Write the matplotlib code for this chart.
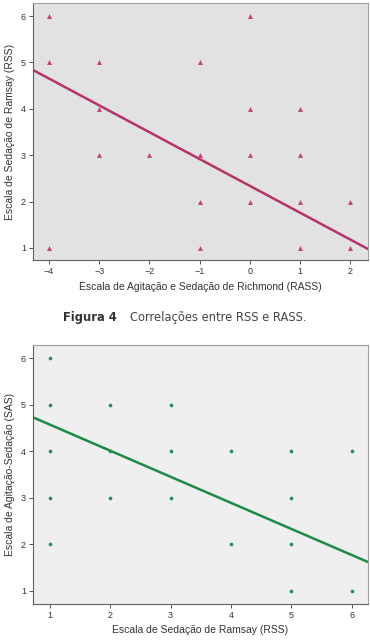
import matplotlib
matplotlib.use('Agg')
import matplotlib.pyplot as plt
import numpy as np

# Figura 4: RASS (x) vs RSS (y)
rass_x = [-4, 0, -4, -3, -1, -3, 0, 1, -3, -2, -1, 0, 1, -1, 0, 1, 2, -4, -1, 1, 2]
rss_y = [6, 6, 5, 5, 5, 4, 4, 4, 3, 3, 3, 3, 3, 2, 2, 2, 2, 1, 1, 1, 1]
fit1 = (-0.578, 2.34)   # slope, intercept

# Figura 5: RSS (x) vs SAS (y)
rss_x = [1, 1, 2, 3, 1, 2, 3, 4, 5, 6, 1, 2, 3, 5, 1, 4, 5, 5, 6]
sas_y = [6, 5, 5, 5, 4, 4, 4, 4, 4, 4, 3, 3, 3, 3, 2, 2, 2, 1, 1]
fit2 = (-0.56, 5.13)

plt.rcParams['font.family'] = ['Liberation Sans', 'DejaVu Sans']

fig = plt.figure(figsize=(3.70, 6.43), dpi=100)

def style(ax, bg):
    ax.set_facecolor(bg)
    for s in ax.spines.values():
        s.set_color('#a0a0a0')
        s.set_linewidth(0.8)
    ax.spines['left'].set_color('#606060')
    ax.spines['bottom'].set_color('#606060')
    ax.tick_params(labelsize=6.5, colors='#333333', length=3, width=0.6, pad=2)

ax1 = fig.add_axes([0.089, 0.5956, 0.906, 0.3997])
style(ax1, '#e2e2e2')
ax1.scatter(rass_x, rss_y, marker='^', s=13, color='#c2457a', zorder=3, linewidths=0)
xl = np.array([-4.32, 2.36])
ax1.plot(xl, fit1[0] * xl + fit1[1], color='#b5336a', lw=1.8, zorder=2)
ax1.set_xlim(-4.32, 2.36)
ax1.set_ylim(0.74, 6.28)
ax1.set_xticks([-4, -3, -2, -1, 0, 1, 2])
ax1.set_xticklabels(['\u22124', '\u22123', '\u22122', '\u22121', '0', '1', '2'])
ax1.set_yticks([1, 2, 3, 4, 5, 6])
ax1.set_xlabel('Escala de Agitação e Sedação de Richmond (RASS)', fontsize=7.5, color='#333333', labelpad=4)
ax1.set_ylabel('Escala de Sedação de Ramsay (RSS)', fontsize=7.5, color='#333333', labelpad=4)

fig.text(0.170, 1 - 317 / 643, 'Figura 4', fontsize=8.3, fontweight='bold', color='#333333',
         family='DejaVu Sans', va='center')
fig.text(0.352, 1 - 317 / 643, 'Correlações entre RSS e RASS.', fontsize=8.3, color='#444444',
         family='DejaVu Sans', va='center')

ax2 = fig.add_axes([0.089, 0.0607, 0.906, 0.4028])
style(ax2, '#efefef')
ax2.scatter(rss_x, sas_y, marker='o', s=7, color='#2a8a5c', zorder=3, linewidths=0)
xl2 = np.array([0.72, 6.27])
ax2.plot(xl2, fit2[0] * xl2 + fit2[1], color='#1e8a4a', lw=1.8, zorder=2)
ax2.set_xlim(0.72, 6.27)
ax2.set_ylim(0.72, 6.28)
ax2.set_xticks([1, 2, 3, 4, 5, 6])
ax2.set_yticks([1, 2, 3, 4, 5, 6])
ax2.set_xlabel('Escala de Sedação de Ramsay (RSS)', fontsize=7.5, color='#333333', labelpad=4)
ax2.set_ylabel('Escala de Agitação-Sedação (SAS)', fontsize=7.5, color='#333333', labelpad=4)

fig.savefig('out.png', dpi=100)
